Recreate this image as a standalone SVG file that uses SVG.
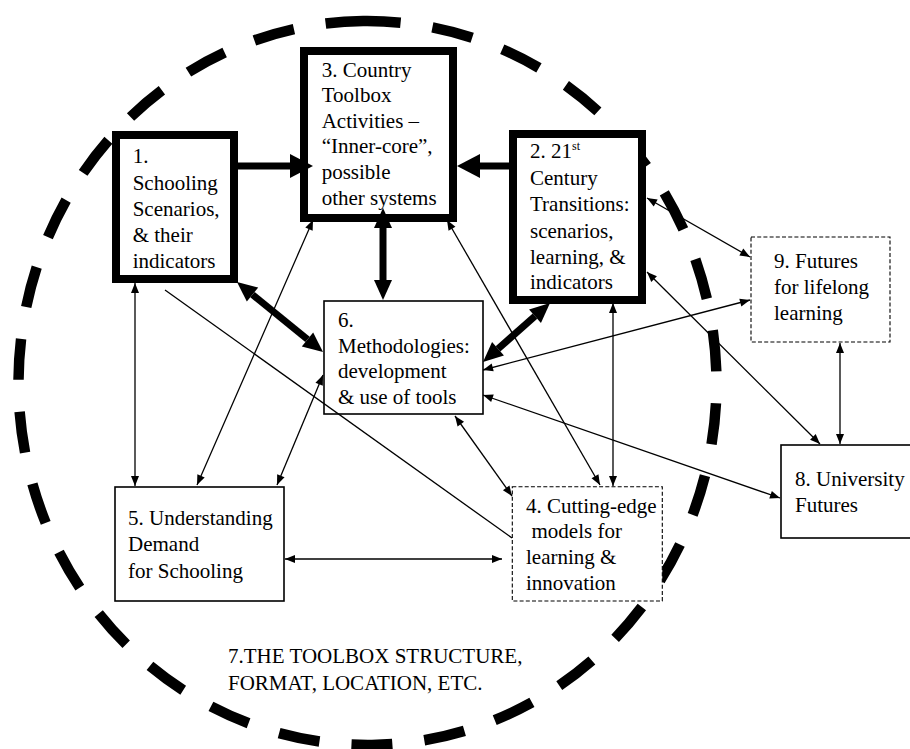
<svg xmlns="http://www.w3.org/2000/svg" width="910" height="749" viewBox="0 0 910 749">
<style>
text{font-family:"Liberation Serif","Times New Roman",serif;font-size:21px;fill:#000}
.thick{fill:#fff;stroke:#000;stroke-width:8}
.thin{fill:#fff;stroke:#000;stroke-width:1.6}
.dash{fill:#fff;stroke:#000;stroke-width:1.1;stroke-dasharray:4 2.2}
.c{fill:none;stroke:#000;stroke-width:1.3}
.ct{fill:none;stroke:#000;stroke-width:7}
</style>
<defs>
<marker id="ah" markerUnits="userSpaceOnUse" markerWidth="10" markerHeight="8" refX="10" refY="4" orient="auto-start-reverse" overflow="visible"><path d="M0,0 L10,4 L0,8 z"/></marker>
<marker id="big" markerUnits="userSpaceOnUse" markerWidth="23" markerHeight="24" refX="0" refY="12" orient="auto" overflow="visible"><path d="M0,0 L23,12 L0,24 z"/></marker>
<marker id="med" markerUnits="userSpaceOnUse" markerWidth="20" markerHeight="18" refX="0" refY="9" orient="auto-start-reverse" overflow="visible"><path d="M0,0 L20,9 L0,18 z"/></marker>
</defs>
<rect width="910" height="749" fill="#fff"/>
<g id="node7">
<path transform="rotate(-0.7 367.5 383)" d="M367.5,21 A349,362 0 1 1 367.5,745 A349,362 0 1 1 367.5,21" fill="none" stroke="#000" stroke-width="10.5" pathLength="2224" stroke-dasharray="41 32" stroke-dashoffset="3.5"/>
<text x="228" y="663">7.THE TOOLBOX STRUCTURE,</text>
<text x="228" y="690">FORMAT, LOCATION, ETC.</text>
</g>
<g id="node1">
<rect class="thick" x="116" y="135" width="118" height="144"/>
<text x="132.7" y="163">1.</text>
<text x="132.7" y="190">Schooling</text>
<text x="132.7" y="216">Scenarios,</text>
<text x="132.7" y="242">&amp; their</text>
<text x="132.7" y="268">indicators</text>
</g>
<g id="node3">
<rect class="thick" x="304" y="51" width="149" height="167"/>
<text x="321.7" y="77">3. Country</text>
<text x="321.7" y="102">Toolbox</text>
<text x="321.7" y="128">Activities –</text>
<text x="321.7" y="153">“Inner-core”,</text>
<text x="321.7" y="179">possible</text>
<text x="321.7" y="205">other systems</text>
</g>
<g id="node2">
<rect class="thick" x="513" y="134" width="129" height="166"/>
<text x="530" y="158">2. 21<tspan dy="-8" font-size="12">st</tspan></text>
<text x="530" y="185">Century</text>
<text x="530" y="211">Transitions:</text>
<text x="530" y="238">scenarios,</text>
<text x="530" y="264">learning, &amp;</text>
<text x="530" y="289">indicators</text>
</g>
<g id="node6">
<rect class="thin" x="324" y="301" width="159" height="113"/>
<text x="338" y="327">6.</text>
<text x="338" y="353">Methodologies:</text>
<text x="338" y="378">development</text>
<text x="338" y="404">&amp; use of tools</text>
</g>
<g id="node5">
<rect class="thin" x="115" y="487" width="169" height="114"/>
<text x="128" y="525">5. Understanding</text>
<text x="128" y="551">Demand</text>
<text x="128" y="578">for Schooling</text>
</g>
<g id="node4">
<rect class="dash" x="512.3" y="486.7" width="150" height="114.3"/>
<text x="526" y="513">4. Cutting-edge</text>
<text x="531.5" y="538">models for</text>
<text x="526" y="564">learning &amp;</text>
<text x="526" y="590">innovation</text>
</g>
<g id="node9">
<rect class="dash" x="751" y="237" width="139" height="105"/>
<text x="774" y="268">9. Futures</text>
<text x="774" y="294">for lifelong</text>
<text x="774" y="320">learning</text>
</g>
<g id="node8">
<rect class="thin" x="781" y="445" width="135" height="93"/>
<text x="795" y="486">8. University</text>
<text x="795" y="512">Futures</text>
</g>
<g id="connectors">
<path class="ct" d="M238,166 H290" marker-end="url(#big)"/>
<path class="ct" d="M509,166 H480" marker-end="url(#big)"/>
<path class="ct" d="M383,228 V280" marker-start="url(#med)" marker-end="url(#med)"/>
<path class="ct" d="M252.5,294.6 L307.5,339.4" marker-start="url(#med)" marker-end="url(#med)"/>
<path class="ct" d="M535,316.2 L498,348.8" marker-start="url(#med)" marker-end="url(#med)"/>
<path class="c" d="M135,283 V486" marker-start="url(#ah)" marker-end="url(#ah)"/>
<path class="c" d="M313,220 L197,485" marker-start="url(#ah)" marker-end="url(#ah)"/>
<path class="c" d="M323,375 L277,485" marker-start="url(#ah)" marker-end="url(#ah)"/>
<path class="c" d="M447,220 L600,485" marker-start="url(#ah)" marker-end="url(#ah)"/>
<path class="c" d="M613,303 V486" marker-start="url(#ah)" marker-end="url(#ah)"/>
<path class="c" d="M165,290 L512,538" stroke-width="1"/>
<path class="c" d="M455,416 L512,496" marker-start="url(#ah)" marker-end="url(#ah)"/>
<path class="c" d="M285,559 H502" stroke-width="1.8" marker-start="url(#ah)" marker-end="url(#ah)"/>
<path class="c" d="M647,198 L750,257" marker-start="url(#ah)" marker-end="url(#ah)"/>
<path class="c" d="M647,272 L820,444" marker-start="url(#ah)" marker-end="url(#ah)"/>
<path class="c" d="M483,370 L750,300" marker-start="url(#ah)" marker-end="url(#ah)"/>
<path class="c" d="M483,395 L780,498" marker-start="url(#ah)" marker-end="url(#ah)"/>
<path class="c" d="M840,343 V444" marker-start="url(#ah)" marker-end="url(#ah)"/>
</g>
</svg>
